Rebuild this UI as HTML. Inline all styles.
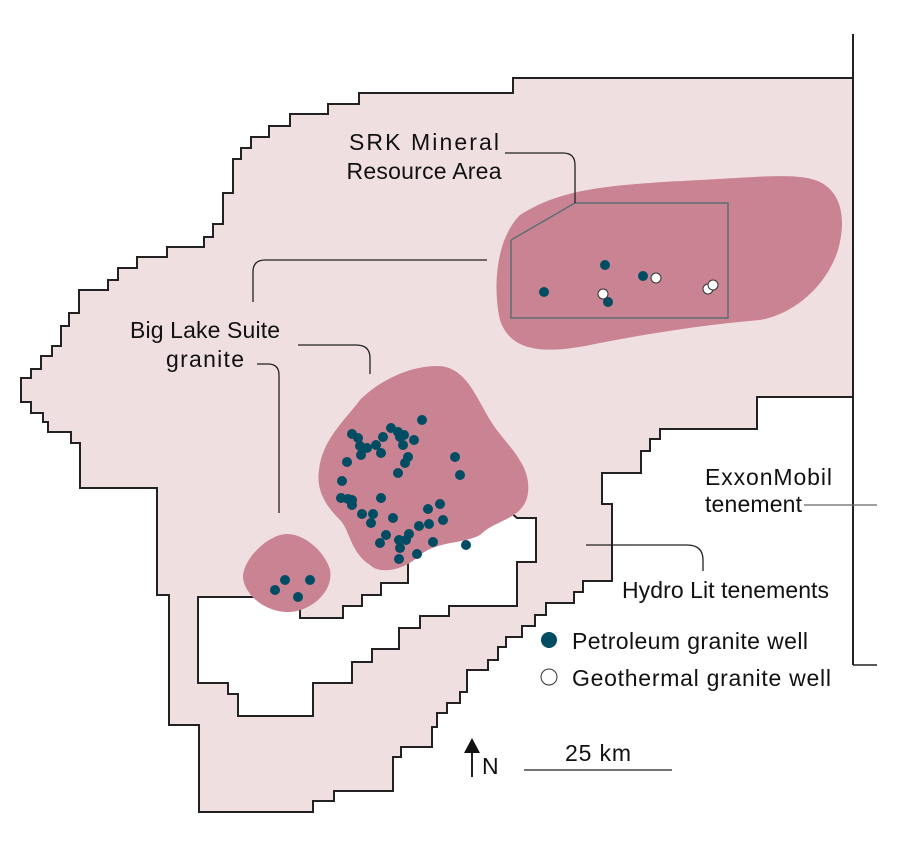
<!DOCTYPE html>
<html><head><style>html,body{margin:0;padding:0;background:#fff}svg{display:block}text{font-family:"Liberation Sans",sans-serif;fill:#111}</style></head>
<body>
<svg width="915" height="848" viewBox="0 0 915 848" xmlns="http://www.w3.org/2000/svg">
<polygon fill="#f0dfe0" stroke="#222" stroke-width="2" points="853,78 513,78 513,93 359,93 359,104 328,104 328,114 290,114 290,126 269,126 269,137 251,137 251,148 241,148 241,159 233,159 233,193 223,193 223,224 213,224 213,237 204,237 204,247 167,247 167,257 137,257 137,268 118,268 118,280 108,280 108,290 79,290 79,313 69,313 69,326 61,326 61,346 52,346 52,356 41,356 41,369 31,369 31,378 21,378 21,402 31,402 31,413 43,413 43,422 48,422 48,432 71,432 71,443 80,443 80,488 157,488 157,595 169,595 169,725 199,725 199,812 313,812 313,801 334,801 334,791 393,791 393,757 401,757 401,747 432,747 432,727 437,727 437,713 447,713 447,703 460,703 460,692 467,692 467,670 488,670 488,660 498,660 498,647 506,647 506,637 522,637 522,626 535,626 535,615 546,615 546,603 574,603 574,592 583,592 583,581 612,581 612,504 602,504 602,473 641,473 641,451 650,451 650,439 660,439 660,429 757,429 757,397 853,397"/>
<polygon fill="#fff" stroke="#222" stroke-width="2" points="198,597 300,597 300,618 343,618 343,606 362,606 362,595 381,595 381,583 408,583 408,550 510,512 517,518 536,518 536,562 517,562 517,606 449,606 449,616 420,616 420,628 399,628 399,649 372,649 372,662 352,662 352,683 313,683 313,716 238,716 238,694 228,694 228,683 198,683"/>
<line x1="853" y1="34" x2="853" y2="665" stroke="#222" stroke-width="2"/>
<line x1="853" y1="665" x2="877" y2="665" stroke="#222" stroke-width="1.5"/>
<path fill="#c98393" d="M520,215 C560,190 600,185 700,180 C760,177 800,172 820,182 C845,195 845,225 838,250 C825,290 790,315 760,320 C700,325 640,335 590,345 C540,355 510,350 500,320 C493,290 495,240 520,215 Z"/>
<path fill="#c98393" d="M437,366 C465,366 475,395 490,420 C505,445 535,465 527,498 C520,520 495,520 480,535 C460,545 440,540 420,555 C405,570 380,575 370,565 C350,552 350,530 340,520 C325,505 316,490 319,470 C322,440 345,420 360,400 C380,380 410,366 437,366 Z"/>
<path fill="#c98393" d="M287,534 C305,534 325,552 330,570 C334,592 310,612 288,612 C265,612 245,595 243,578 C242,560 268,534 287,534 Z"/>
<polyline fill="none" stroke="#5e6e72" stroke-width="1.5" points="511,240 575,203 728,203 728,318 511,318 511,240"/>
<g fill="none" stroke="#222" stroke-width="1.3">
<path d="M505,153 H563 Q575,153 575,165 V203"/>
<path d="M487,260 H265 Q253,260 253,272 V302"/>
<path d="M298,345 H356 Q370,345 370,358 V374"/>
<path d="M257,364 H268 Q279,364 279,375 V513"/>
<path d="M586,545 H687 Q703,545 703,560 V571"/>
<path d="M804,505 H877" stroke="#666"/>
<path d="M524,770 H672"/>
<path d="M472,752 V777" stroke-width="2"/>
</g>
<polygon points="464,753 472,738 480,753" fill="#111"/>
<g fill="#004d63">
<circle cx="544" cy="292" r="5"/><circle cx="605" cy="265" r="5"/><circle cx="643" cy="276" r="5"/><circle cx="608" cy="302" r="5"/>
<circle cx="422" cy="420" r="5"/><circle cx="352" cy="434" r="5"/><circle cx="358" cy="438" r="5"/><circle cx="360" cy="446" r="5"/><circle cx="361" cy="455" r="5"/><circle cx="376" cy="445" r="5"/><circle cx="383" cy="437" r="5"/><circle cx="391" cy="428" r="5"/><circle cx="398" cy="432" r="5"/><circle cx="400" cy="437" r="5"/><circle cx="404" cy="435" r="5"/><circle cx="414" cy="440" r="5"/><circle cx="403" cy="445" r="5"/><circle cx="408" cy="457" r="5"/><circle cx="381" cy="453" r="5"/><circle cx="405" cy="463" r="5"/><circle cx="398" cy="473" r="5"/><circle cx="347" cy="462" r="5"/><circle cx="342" cy="481" r="5"/><circle cx="348" cy="499" r="5"/><circle cx="352" cy="500" r="5"/><circle cx="341" cy="498" r="5"/><circle cx="352" cy="505" r="5"/><circle cx="381" cy="498" r="5"/><circle cx="362" cy="514" r="5"/><circle cx="373" cy="514" r="5"/><circle cx="371" cy="523" r="5"/><circle cx="393" cy="518" r="5"/><circle cx="386" cy="535" r="5"/><circle cx="380" cy="543" r="5"/><circle cx="399" cy="540" r="5"/><circle cx="406" cy="540" r="5"/><circle cx="400" cy="548" r="5"/><circle cx="409" cy="534" r="5"/><circle cx="428" cy="509" r="5"/><circle cx="429" cy="524" r="5"/><circle cx="440" cy="504" r="5"/><circle cx="443" cy="520" r="5"/><circle cx="419" cy="526" r="5"/><circle cx="433" cy="542" r="5"/><circle cx="399" cy="559" r="5"/><circle cx="417" cy="554" r="5"/><circle cx="466" cy="545" r="5"/><circle cx="460" cy="475" r="5"/><circle cx="455" cy="457" r="5"/><circle cx="367" cy="448" r="5"/>
<circle cx="275" cy="590" r="5"/><circle cx="285" cy="580" r="5"/><circle cx="310" cy="580" r="5"/><circle cx="298" cy="597" r="5"/>
<circle cx="549" cy="640" r="8"/>
</g>
<g fill="#fff" stroke="#333" stroke-width="1">
<circle cx="603" cy="294" r="5"/><circle cx="656" cy="278" r="5"/><circle cx="708" cy="289" r="5"/><circle cx="713" cy="285" r="5"/>
<circle cx="549" cy="677" r="8"/>
</g>
<g font-size="23">
<text x="424" y="150" text-anchor="middle" textLength="150">SRK Mineral</text>
<text x="424" y="179" text-anchor="middle" textLength="155">Resource Area</text>
<text x="205" y="338" text-anchor="middle" textLength="150">Big Lake Suite</text>
<text x="205" y="367" text-anchor="middle" textLength="78">granite</text>
<text x="705" y="485" textLength="127">ExxonMobil</text>
<text x="705" y="512" textLength="97">tenement</text>
<text x="622" y="598" textLength="207">Hydro Lit tenements</text>
<text x="572" y="649" textLength="236">Petroleum granite well</text>
<text x="572" y="686" textLength="259">Geothermal granite well</text>
<text x="598" y="761" text-anchor="middle" textLength="66">25 km</text>
<text x="482" y="774">N</text>
</g>
</svg>
</body></html>
